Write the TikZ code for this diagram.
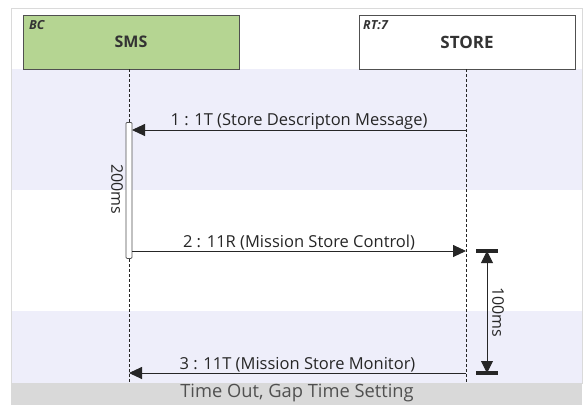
\documentclass[tikz,border=0pt]{standalone}
\usepackage{fontspec}
\setmainfont{Open Sans}
\usetikzlibrary{arrows.meta}
\definecolor{smsgreen}{HTML}{B5D592}
\definecolor{band}{HTML}{EEEEFA}
\definecolor{boxline}{HTML}{505050}
\definecolor{capgray}{HTML}{D9D9D9}
\definecolor{captext}{HTML}{505050}
\definecolor{framegray}{HTML}{DADADA}
\begin{document}
\begin{tikzpicture}[x=1pt,y=-1pt,
  lifebox/.style={draw=boxline,line width=1pt,minimum width=216pt,minimum height=54pt,inner sep=0pt,anchor=north west},
  lifeline/.style={draw=black!85,dashed,dash pattern=on 3pt off 2pt,line width=0.9pt},
  msg/.style={draw=black!85,line width=0.9pt,-{Triangle[length=13pt,width=12pt]}},
  msglabel/.style={font=\fontsize{16.5}{18}\selectfont,text=black!85,inner sep=0.5pt},
  activ/.style={draw=boxline,fill=white,line width=0.8pt,rounded corners=1pt}]
\useasboundingbox (0,0) rectangle (584,405);
% frame and bands
\fill[white] (11,8) rectangle (582,383);
\fill[band] (11,69) rectangle (582,190);
\fill[band] (11,311) rectangle (582,383);
\draw[framegray,line width=0.8pt] (11,8) rectangle (582,383);
% caption
\fill[capgray] (11,383) rectangle (582,405);
\node[text=captext,font=\fontsize{18.3}{20}\selectfont] (cap) at (297,393) {Time Out, Gap Time Setting};
% lifeline boxes
\node[lifebox,fill=smsgreen] (sms) at (23,15) {};
\node[lifebox,fill=white] (store) at (359,15) {};
\node[font=\bfseries\fontsize{16}{18}\selectfont,text=black!80] (smst) at (131,42) {SMS};
\node[font=\bfseries\fontsize{17}{18}\selectfont,text=black!80] (storet) at (467,42) {STORE};
\node[font=\bfseries\itshape\fontsize{12.5}{14}\selectfont,text=black!80,anchor=north west,inner sep=0pt] (bc) at (29,20) {BC};
\node[font=\bfseries\itshape\fontsize{12.5}{14}\selectfont,text=black!80,anchor=north west,inner sep=0pt] (rt) at (363,20) {RT:7};
% lifelines
\coordinate (smsend) at (129,383);
\coordinate (storeend) at (466,383);
\coordinate (smstop) at (129,69);
\coordinate (storetop) at (466,69);
\draw[lifeline] (smstop) -- (smsend);
\draw[lifeline] (storetop) -- (storeend);
% activation
\node[activ,minimum width=6pt,minimum height=136pt,inner sep=0pt,anchor=north] (act) at (129,122) {};
\node[rotate=-90,font=\fontsize{16}{18}\selectfont,text=black!85] (t200) at (117,189) {200ms};
% messages
\coordinate (m1s) at (466,130);
\coordinate (m1e) at (132,130);
\draw[msg] (m1s) -- node[msglabel,above] (l1) {1 : 1T (Store Descripton Message)} (m1e);
\coordinate (m2s) at (132,251);
\coordinate (m2e) at (466,251);
\draw[msg] (m2s) -- node[msglabel,above] (l2) {2 : 11R (Mission Store Control)} (m2e);
\coordinate (m3s) at (466,373);
\coordinate (m3e) at (129,373);
\draw[msg] (m3s) -- node[msglabel,above] (l3) {3 : 11T (Mission Store Monitor)} (m3e);
% 100ms dimension
\coordinate (dtop) at (487,251);
\coordinate (dbot) at (487,373);
\draw[line width=3.4pt,black!85] (476,251) -- (498,251);
\draw[line width=3.4pt,black!85] (476,373) -- (498,373);
\draw[black!85,line width=0.9pt,{Triangle[length=12pt,width=12pt]}-{Triangle[length=12pt,width=12pt]}] (dtop) -- (dbot);
\node[rotate=-90,font=\fontsize{16}{18}\selectfont,text=black!85] (t100) at (498,312) {100ms};
\end{tikzpicture}
\end{document}
